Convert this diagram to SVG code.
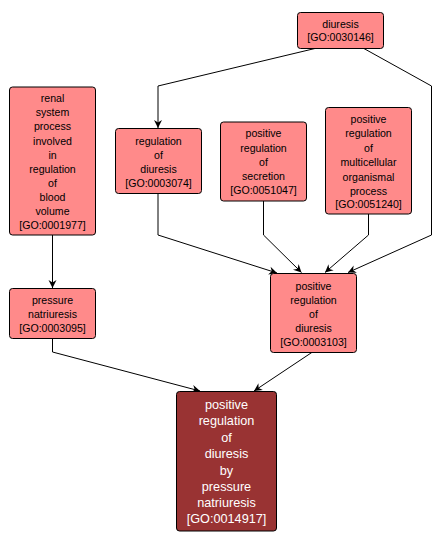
<svg xmlns="http://www.w3.org/2000/svg" width="441" height="544" viewBox="0 0 441 544">
<style>
.n rect{fill:#FF8A8A;stroke:#000;stroke-width:1}
.n text{font-family:"Liberation Sans",Arial,sans-serif;font-size:10.6px;fill:#000;text-anchor:middle}
#GO0014917 rect{fill:#993333}
#GO0014917 text{font-size:12.7px;fill:#fff}
#edges path{fill:none;stroke:#000;stroke-width:1;marker-end:url(#ah)}
</style>
<defs>
<marker id="ah" markerUnits="userSpaceOnUse" markerWidth="12" markerHeight="12" viewBox="-10 -6 12 12" refX="0" refY="0" orient="auto">
<path d="M0,0 L-8,-4 L-5.5,0 L-8,4 Z" fill="#000"/>
</marker>
</defs>
<rect width="441" height="544" fill="#fff"/>
<g id="edges">
<path d="M317,48 L158,86 L158,128"/>
<path d="M363,48 L431.5,86 L431.5,235 L348,272.5"/>
<path d="M158,193 L158,235 L277,273"/>
<path d="M263.5,201 L263.5,235 L301.5,272.5"/>
<path d="M368.5,214 L368.5,235 L325,272.5"/>
<path d="M52.5,235 L52.5,288"/>
<path d="M52.5,338 L52.5,352 L200,391"/>
<path d="M312.5,352 L254,391"/>
</g>
<g id="GO0030146" class="n">
<rect x="297.5" y="12.5" width="86" height="36" rx="3"/>
<text x="340.5" y="27.5">diuresis</text>
<text x="340.5" y="41">[GO:0030146]</text>
</g>
<g id="GO0001977" class="n">
<rect x="9.5" y="87" width="86" height="148" rx="3"/>
<text x="52.5" y="102">renal</text>
<text x="52.5" y="116">system</text>
<text x="52.5" y="130">process</text>
<text x="52.5" y="145">involved</text>
<text x="52.5" y="159">in</text>
<text x="52.5" y="173">regulation</text>
<text x="52.5" y="187">of</text>
<text x="52.5" y="201">blood</text>
<text x="52.5" y="215">volume</text>
<text x="52.5" y="229">[GO:0001977]</text>
</g>
<g id="GO0003074" class="n">
<rect x="115.5" y="128.5" width="86" height="65" rx="3"/>
<text x="158.5" y="145">regulation</text>
<text x="158.5" y="159">of</text>
<text x="158.5" y="173">diuresis</text>
<text x="158.5" y="187">[GO:0003074]</text>
</g>
<g id="GO0051047" class="n">
<rect x="220.5" y="122" width="86" height="79" rx="3"/>
<text x="263.5" y="137.3">positive</text>
<text x="263.5" y="151.7">regulation</text>
<text x="263.5" y="166.3">of</text>
<text x="263.5" y="180">secretion</text>
<text x="263.5" y="194">[GO:0051047]</text>
</g>
<g id="GO0051240" class="n">
<rect x="325.5" y="107.5" width="86" height="106.5" rx="3"/>
<text x="368.5" y="123.3">positive</text>
<text x="368.5" y="137.3">regulation</text>
<text x="368.5" y="152">of</text>
<text x="368.5" y="166.3">multicellular</text>
<text x="368.5" y="180.7">organismal</text>
<text x="368.5" y="194.7">process</text>
<text x="368.5" y="208">[GO:0051240]</text>
</g>
<g id="GO0003095" class="n">
<rect x="9.5" y="288.5" width="86" height="50" rx="3"/>
<text x="52.5" y="304">pressure</text>
<text x="52.5" y="318">natriuresis</text>
<text x="52.5" y="332">[GO:0003095]</text>
</g>
<g id="GO0003103" class="n">
<rect x="270.5" y="273.5" width="86" height="79" rx="3"/>
<text x="313.5" y="290">positive</text>
<text x="313.5" y="304">regulation</text>
<text x="313.5" y="318">of</text>
<text x="313.5" y="332">diuresis</text>
<text x="313.5" y="346">[GO:0003103]</text>
</g>
<g id="GO0014917" class="n">
<rect x="176.5" y="391.5" width="100" height="139.5" rx="3"/>
<text x="226.5" y="408.8">positive</text>
<text x="226.5" y="424.8">regulation</text>
<text x="226.5" y="441.5">of</text>
<text x="226.5" y="457.8">diuresis</text>
<text x="226.5" y="474.8">by</text>
<text x="226.5" y="490.8">pressure</text>
<text x="226.5" y="506.8">natriuresis</text>
<text x="226.5" y="523.2">[GO:0014917]</text>
</g>
</svg>
